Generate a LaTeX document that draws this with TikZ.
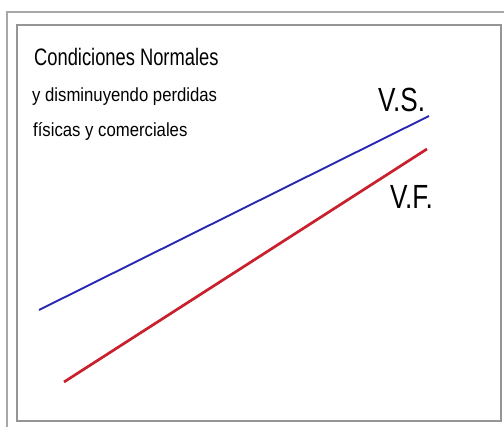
\documentclass[tikz,border=0pt]{standalone}
\usepackage{fontspec}
\setmainfont{Liberation Sans}
\definecolor{framegray}{HTML}{A8A8A8}
\definecolor{innergray}{HTML}{959595}
\definecolor{vsblue}{HTML}{2828B0}
\definecolor{vfred}{HTML}{C8202C}
\tikzset{
  lbl/.style={anchor=base west, inner sep=0pt, text=black},
  title/.style={lbl, xscale=0.77, font=\fontsize{23.8}{27}\selectfont},
  sub/.style={lbl, xscale=0.88, font=\fontsize{19}{22}\selectfont},
  big/.style={lbl, xscale=0.78, font=\fontsize{33.5}{38}\selectfont},
  vsline/.style={draw=vsblue, line width=1.9pt},
  vfline/.style={draw=vfred, line width=2.7pt}
}
\begin{document}
\begin{tikzpicture}[x=1pt,y=-1pt]
\useasboundingbox (0,0) rectangle (504,427);
\fill[white] (0,0) rectangle (504,427);
% outer frame
\draw[framegray, line width=1.1pt] (7,427) -- (7,12) -- (504,12);
% inner frame
\draw[innergray, line width=1.1pt] (17,25) rectangle (501,421);
% texts
\node[title] (t1) at (34,66) {Condiciones Normales};
\node[sub] (t2) at (32,102) {y disminuyendo perdidas};
\node[sub] (t3) at (33,137) {físicas y comerciales};
\node[big] (vs) at (378,112) {V.S.};
\node[big] (vf) at (390,209) {V.F.};
% lines
\coordinate (b1) at (39,310);
\coordinate (b2) at (429,116);
\coordinate (r1) at (64,382);
\coordinate (r2) at (427,149);
\draw[vsline] (b1) -- (b2);
\draw[vfline] (r1) -- (r2);
\end{tikzpicture}
\end{document}
